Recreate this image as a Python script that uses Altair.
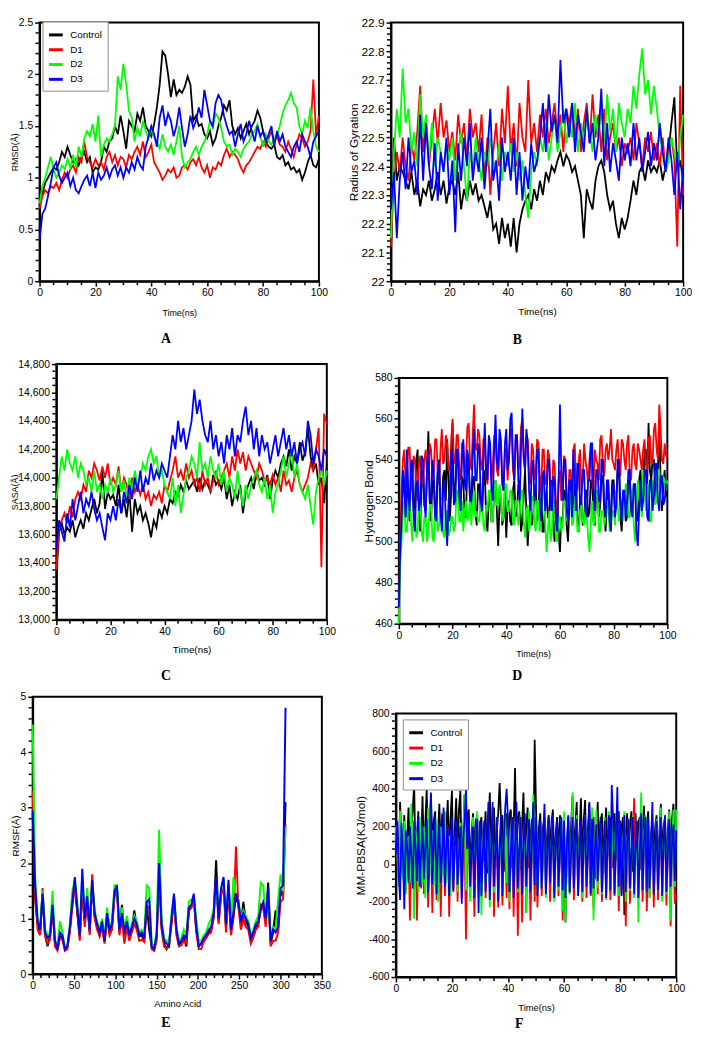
import altair as alt
import pandas as pd

SERIES = ["Control", "D1", "D2", "D3"]
COLORS = ["#000000", "#ff0000", "#00ff00", "#0000ff"]
FONT = "Liberation Sans"
SERIF = "Liberation Serif"

time_ns = list(range(0, 101))
time_half = [i / 2 for i in range(201)]
residue = list(range(0, 307, 3))

# ---------------- A: RMSD ----------------
rmsd_control = [0.72, 0.85, 0.95, 1.0, 1.05, 1.1, 1.08, 1.15, 1.25, 1.2, 1.3,
                1.22, 1.15, 1.18, 1.12, 1.2, 1.25, 1.15, 1.2, 1.05, 1.1,
                1.08, 1.15, 1.3, 1.25, 1.35, 1.38, 1.5, 1.42, 1.6, 1.45,
                1.28, 1.55, 1.5, 1.45, 1.62, 1.55, 1.68, 1.5, 1.45, 1.4,
                1.52, 1.68, 1.9, 2.22, 2.18, 2.0, 1.78, 1.95, 1.8, 1.85,
                1.82, 1.88, 1.98, 1.9, 1.55, 1.6, 1.5, 1.52, 1.42, 1.38,
                1.45, 1.32, 1.38, 1.5, 1.58, 1.7, 1.65, 1.75, 1.5, 1.42,
                1.48, 1.38, 1.45, 1.52, 1.42, 1.5, 1.55, 1.65, 1.58, 1.45,
                1.35, 1.3, 1.28, 1.32, 1.2, 1.18, 1.22, 1.12, 1.15, 1.08,
                1.1, 1.05, 1.08, 0.98, 1.05, 1.15, 1.22, 1.12, 1.1, 1.18]
rmsd_d1 = [0.7, 0.82, 0.88, 0.85, 0.92, 0.9, 0.95, 0.88, 0.98, 1.05, 1.0,
           1.08, 1.12, 1.05, 1.2, 1.15, 1.35, 1.2, 1.15, 1.1, 1.18,
           1.12, 1.15, 1.08, 1.2, 1.25, 1.15, 1.22, 1.12, 1.2, 1.18,
           1.1, 1.22, 1.18, 1.25, 1.3, 1.22, 1.35, 1.2, 1.25, 1.32,
           1.15, 1.1, 1.05, 0.98, 1.02, 1.08, 1.05, 1.1, 1.0, 1.02,
           1.1, 1.12, 1.08, 1.15, 1.18, 1.12, 1.2, 1.1, 1.05, 1.12,
           1.0, 1.1, 1.08, 1.15, 1.12, 1.22, 1.28, 1.2, 1.25, 1.22,
           1.18, 1.1, 1.05, 1.12, 1.15, 1.2, 1.25, 1.3, 1.28, 1.35,
           1.3, 1.38, 1.45, 1.35, 1.4, 1.32, 1.3, 1.25, 1.35, 1.28,
           1.2, 1.32, 1.42, 1.38, 1.3, 1.35, 1.45, 1.95, 1.4, 1.6]
rmsd_d2 = [0.75, 0.92, 1.0, 1.1, 1.2, 1.08, 1.0, 1.05, 1.12, 1.08, 1.18,
           1.1, 1.22, 1.1, 1.3, 1.2, 1.38, 1.45, 1.4, 1.52, 1.35,
           1.6, 1.2, 1.32, 1.38, 1.35, 1.42, 1.5, 1.98, 1.85, 2.1,
           1.9, 1.65, 1.58, 1.35, 1.48, 1.4, 1.55, 1.45, 1.38, 1.48,
           1.4, 1.35, 1.28, 1.42, 1.3, 1.25, 1.32, 1.22, 1.35, 1.5,
           1.2, 1.1, 1.15, 1.18, 1.25, 1.3, 1.22, 1.3, 1.35, 1.42,
           1.55, 1.48, 1.62, 1.58, 1.48, 1.35, 1.3, 1.32, 1.22, 1.28,
           1.25, 1.2, 1.28, 1.32, 1.35, 1.42, 1.45, 1.52, 1.4, 1.3,
           1.42, 1.35, 1.32, 1.38, 1.42, 1.5, 1.62, 1.7, 1.75, 1.82,
           1.72, 1.68, 1.5, 1.42, 1.55, 1.48, 1.68, 1.45, 1.3, 1.25]
rmsd_d3 = [0.4, 0.65, 0.7, 0.82, 0.95, 1.1, 1.15, 1.02, 0.95, 1.0, 1.05,
           0.92, 1.0, 0.88, 0.85, 0.92, 0.98, 1.02, 0.92, 1.05, 0.9,
           1.05, 0.98, 1.02, 1.1, 1.0, 1.08, 1.12, 1.02, 1.1, 1.0,
           1.1, 1.05, 1.15, 1.08, 1.2, 1.12, 1.08, 1.3, 1.4, 1.5,
           1.42, 1.3, 1.58, 1.7, 1.5, 1.62, 1.55, 1.4, 1.5, 1.68,
           1.48, 1.3, 1.42, 1.6, 1.48, 1.55, 1.68, 1.58, 1.85, 1.7,
           1.55, 1.5, 1.72, 1.8, 1.75, 1.6, 1.5, 1.42, 1.45, 1.3,
           1.42, 1.52, 1.35, 1.42, 1.55, 1.45, 1.35, 1.5, 1.4, 1.45,
           1.35, 1.42, 1.5, 1.3, 1.45, 1.35, 1.42, 1.3, 1.25, 1.2,
           1.3, 1.35, 1.25, 1.42, 1.35, 1.3, 1.2, 1.35, 1.4, 1.45]

# ---------------- B: Radius of gyration ----------------
rg_control = [22.1, 22.5, 22.35, 22.4, 22.38, 22.35, 22.32, 22.38, 22.3, 22.35, 22.26,
              22.32, 22.3, 22.35, 22.28, 22.32, 22.38, 22.3, 22.35, 22.27, 22.33,
              22.35, 22.3, 22.38, 22.25, 22.32, 22.28, 22.35, 22.3, 22.34, 22.28,
              22.3, 22.26, 22.22, 22.28, 22.18, 22.2, 22.13, 22.22, 22.15, 22.2,
              22.12, 22.22, 22.1, 22.2, 22.25, 22.28, 22.3, 22.25, 22.32, 22.28,
              22.35, 22.3, 22.38, 22.35, 22.4, 22.38, 22.42, 22.45, 22.4, 22.44,
              22.42, 22.38, 22.4, 22.35, 22.3, 22.15, 22.32, 22.28, 22.25, 22.35,
              22.4, 22.42, 22.38, 22.3, 22.25, 22.28, 22.2, 22.15, 22.22, 22.18,
              22.22, 22.28, 22.35, 22.3, 22.38, 22.4, 22.35, 22.42, 22.38, 22.4,
              22.38, 22.42, 22.35, 22.4, 22.45, 22.55, 22.64, 22.38, 22.42, 22.35]
rg_d1 = [22.12, 22.35, 22.45, 22.38, 22.5, 22.4, 22.35, 22.48, 22.42, 22.52, 22.68,
         22.45, 22.55, 22.4, 22.5, 22.6, 22.48, 22.62, 22.5, 22.56, 22.45,
         22.52, 22.42, 22.58, 22.48, 22.55, 22.42, 22.6, 22.5, 22.55, 22.45,
         22.58, 22.35, 22.5, 22.3, 22.45, 22.55, 22.4, 22.6, 22.48, 22.68,
         22.45, 22.55, 22.4, 22.62, 22.5, 22.45, 22.7, 22.48, 22.55, 22.45,
         22.58, 22.5, 22.6, 22.48, 22.55, 22.62, 22.5, 22.58, 22.45, 22.6,
         22.55, 22.62, 22.5, 22.6, 22.45, 22.55, 22.62, 22.48, 22.65, 22.5,
         22.58, 22.45, 22.6, 22.42, 22.5, 22.55, 22.45, 22.5, 22.4, 22.48,
         22.45, 22.5, 22.42, 22.55, 22.48, 22.4, 22.5, 22.45, 22.52, 22.42,
         22.48, 22.4, 22.5, 22.38, 22.45, 22.5, 22.42, 22.12, 22.68, 22.3]
rg_d2 = [22.15, 22.45, 22.6, 22.5, 22.74, 22.55, 22.6, 22.45, 22.52, 22.4, 22.65,
         22.5, 22.58, 22.42, 22.55, 22.4, 22.5, 22.45, 22.38, 22.48, 22.42,
         22.5, 22.35, 22.45, 22.52, 22.4, 22.28, 22.45, 22.38, 22.5, 22.42,
         22.35, 22.45, 22.4, 22.5, 22.42, 22.38, 22.48, 22.35, 22.45, 22.4,
         22.48, 22.38, 22.45, 22.35, 22.42, 22.3, 22.22, 22.38, 22.45, 22.4,
         22.5, 22.45, 22.55, 22.42, 22.5, 22.58, 22.45, 22.52, 22.6, 22.48,
         22.55, 22.5, 22.62, 22.45, 22.55, 22.48, 22.6, 22.52, 22.45, 22.58,
         22.5, 22.6, 22.48, 22.65, 22.52, 22.6, 22.45, 22.62, 22.55, 22.5,
         22.6, 22.55, 22.68, 22.6, 22.72, 22.81, 22.65, 22.7, 22.58, 22.68,
         22.6, 22.5, 22.45, 22.38, 22.42, 22.5, 22.45, 22.38, 22.5, 22.58]
rg_d3 = [22.25, 22.38, 22.15, 22.35, 22.45, 22.32, 22.5, 22.38, 22.42, 22.3, 22.58,
         22.35, 22.55, 22.4, 22.32, 22.48, 22.28, 22.45, 22.38, 22.5, 22.3,
         22.42, 22.17, 22.48, 22.35, 22.5, 22.4, 22.55, 22.35, 22.45, 22.38,
         22.5, 22.32, 22.45, 22.6, 22.35, 22.42, 22.28, 22.5, 22.38, 22.45,
         22.35, 22.5, 22.3, 22.45, 22.28, 22.4, 22.32, 22.48, 22.38, 22.42,
         22.5, 22.62, 22.45, 22.65, 22.52, 22.58, 22.48, 22.77, 22.55, 22.6,
         22.5, 22.62, 22.45, 22.58, 22.52, 22.45, 22.6, 22.48, 22.55, 22.42,
         22.5, 22.67, 22.4, 22.55, 22.38, 22.48, 22.42, 22.35, 22.5, 22.42,
         22.48, 22.4, 22.55, 22.42, 22.5, 22.38, 22.45, 22.52, 22.4, 22.48,
         22.42, 22.55, 22.45, 22.38, 22.5, 22.42, 22.3, 22.45, 22.25, 22.4]

# ---------------- C: SASA ----------------
sasa_control = [13300, 13620, 13680, 13600, 13650, 13620, 13700, 13580, 13650, 13700, 13640,
                13750, 13700, 13780, 13850, 13750, 13820, 14050, 13780, 13900, 13850,
                13880, 13800, 13950, 13750, 13850, 13720, 13900, 13620, 13850, 13750,
                13800, 13700, 13750, 13680, 13580, 13700, 13650, 13780, 13720, 13800,
                13750, 13850, 13820, 13900, 13870, 13950, 13900, 13980, 13920, 13950,
                13980, 13900, 14000, 13920, 13980, 13950, 13900, 14020, 13950, 13980,
                13920, 14000, 13850, 13950, 13800, 13900, 13850, 13950, 13750, 13900,
                13950, 14000, 13920, 14050, 13980, 14000, 13950, 14020, 13850, 13980,
                14050, 14000, 14100, 14150, 14080, 14200, 14050, 14150, 14100, 14250,
                14120, 14180, 14350, 14150, 14050, 14100, 13950, 14000, 13820, 14100]
sasa_d1 = [13350, 13650, 13700, 13750, 13680, 13800, 13720, 13850, 13900, 13850, 13950,
           13900, 14050, 14000, 14100, 14050, 13980, 14080, 14000, 14100, 13950,
           14000, 13950, 14080, 13900, 14000, 13950, 13850, 14000, 13900, 13950,
           13880, 13950, 13850, 13900, 13800, 13880, 13850, 13900, 13820, 13950,
           13900, 13980, 14050, 14150, 14000, 14050, 13980, 14100, 14000, 14050,
           13950, 14000, 13900, 14050, 13950, 14000, 13900, 13980, 14050, 13950,
           14000, 14050, 14100, 14000, 14150, 14050, 14200, 14100, 14180, 14050,
           14150, 14100, 14050, 14000, 14100, 14050, 13980, 14000, 13950, 14020,
           13950, 14000, 13900, 14050, 13950, 13980, 13900, 14000, 14050, 13950,
           13900, 13950, 14000, 14100, 14050, 14200, 14350, 13370, 14450, 14380]
sasa_d2 = [13850, 14000, 14150, 14050, 14200, 14100, 14050, 14150, 14000, 14100, 14050,
           13950, 14000, 13900, 14050, 13900, 13950, 13850, 13950, 13900, 14000,
           13900, 13950, 14050, 13900, 13980, 13850, 14000, 13900, 14050, 13950,
           14000, 14100, 14050, 14150, 14200, 14100, 14150, 14000, 14050, 13950,
           13900, 13850, 14000, 13800, 13950, 13750, 13880, 14000, 14050, 14150,
           14100, 14000, 14250, 14050, 14100, 14000, 14150, 14050, 14000, 14100,
           13950, 14050, 13900, 14000, 13950, 13850, 14050, 13900, 13800, 13950,
           13850, 13950, 14000, 14050, 13950, 13900, 14000, 13850, 13950, 13750,
           13900, 13950, 14050, 14150, 14000, 14100, 14200, 14000, 14100, 13950,
           13900, 13850, 13950, 13800, 13670, 13900, 14000, 14050, 13950, 14050]
sasa_d3 = [13500, 13700, 13620, 13550, 13750, 13650, 13850, 13700, 13800, 13900, 13750,
           13850, 13800, 13900, 13780, 13700, 13750, 13650, 13560, 13750, 13700,
           13800, 13700, 13850, 13750, 13900, 13820, 13950, 13850, 14000, 13900,
           14050, 13900, 14000, 13950, 14100, 13980, 14050, 14000, 14100, 14050,
           14000, 14150, 14300, 14200, 14400, 14250, 14350, 14200, 14300, 14400,
           14620, 14450, 14550, 14400, 14300, 14250, 14400, 14200, 14300, 14150,
           14250, 14100, 14300, 14200, 14350, 14150, 14300, 14250, 14400, 14500,
           14300, 14400, 14200, 14350, 14150, 14300, 14200, 14250, 14100, 14200,
           14300, 14150, 14250, 14350, 14200, 14300, 14150, 14250, 14100, 14200,
           14250, 14150, 14400, 14300, 14100, 14200, 14150, 14050, 14200, 14150]

# ---------------- D: Hydrogen bonds (every 0.5 ns) ----------------
hb_control = [470, 505, 515, 530, 525, 512, 540, 518, 510, 532, 530, 515, 520, 540, 545, 512, 505, 528, 535, 518,
              515, 535, 554, 520, 510, 530, 530, 512, 520, 538, 540, 515, 515, 532, 535, 520, 550, 530, 510, 525,
              558, 520, 525, 540, 545, 518, 520, 532, 530, 512, 512, 540, 540, 520, 518, 530, 532, 515, 508, 528,
              528, 515, 515, 530, 535, 512, 505, 520, 525, 510, 510, 525, 530, 515, 498, 520, 522, 508, 512, 525,
              502, 518, 520, 510, 508, 525, 530, 512, 515, 528, 525, 505, 510, 522, 535, 515, 498, 512, 520, 508,
              512, 525, 528, 510, 515, 532, 530, 505, 505, 520, 525, 512, 512, 528, 530, 510, 500, 515, 520, 505,
              495, 512, 510, 525, 525, 508, 500, 518, 530, 512, 515, 528, 528, 510, 505, 520, 520, 508, 510, 525,
              525, 512, 515, 530, 530, 510, 508, 522, 525, 512, 518, 532, 532, 515, 505, 520, 528, 512, 515, 530,
              530, 515, 520, 535, 535, 512, 505, 522, 525, 510, 512, 530, 530, 515, 518, 528, 528, 512, 510, 530,
              535, 520, 525, 545, 545, 528, 558, 535, 530, 540, 540, 525, 520, 535, 558, 530, 515, 528, 535, 522,
              525]
hb_d1 = [462, 500, 525, 540, 545, 530, 530, 546, 546, 528, 525, 542, 540, 525, 520, 538, 542, 530, 528, 540,
         545, 532, 530, 548, 545, 530, 535, 550, 550, 535, 528, 545, 555, 538, 540, 552, 548, 535, 535, 550,
         560, 540, 538, 552, 552, 535, 530, 548, 548, 532, 540, 556, 558, 540, 535, 552, 567, 545, 545, 555,
         552, 538, 535, 550, 550, 532, 528, 548, 545, 530, 538, 552, 550, 535, 532, 548, 548, 530, 525, 545,
         545, 530, 540, 555, 555, 535, 530, 550, 552, 535, 538, 556, 560, 540, 535, 552, 550, 532, 528, 548,
         545, 530, 535, 550, 548, 530, 525, 545, 545, 528, 530, 545, 542, 525, 520, 540, 538, 520, 510, 530,
         535, 520, 525, 542, 540, 522, 518, 535, 535, 520, 545, 548, 530, 525, 540, 545, 525, 530, 548, 540,
         535, 528, 540, 548, 530, 525, 545, 540, 538, 530, 550, 552, 535, 532, 545, 548, 540, 545, 555, 540,
         538, 535, 545, 550, 535, 532, 550, 548, 540, 535, 548, 552, 532, 530, 545, 548, 538, 535, 548, 545,
         540, 535, 545, 550, 538, 535, 550, 552, 540, 538, 555, 558, 545, 540, 567, 555, 540, 538, 548, 542,
         542]
hb_d2 = [460, 490, 500, 515, 520, 505, 505, 518, 525, 510, 500, 512, 515, 502, 505, 520, 520, 505, 500, 512,
         512, 500, 505, 518, 518, 502, 500, 515, 515, 505, 508, 520, 520, 504, 502, 515, 515, 503, 505, 512,
         512, 505, 508, 525, 525, 510, 510, 520, 505, 515, 520, 510, 512, 522, 508, 520, 525, 512, 515, 510,
         510, 520, 520, 508, 505, 518, 515, 525, 525, 510, 510, 525, 530, 518, 518, 528, 522, 510, 512, 528,
         528, 515, 515, 525, 525, 510, 508, 520, 520, 508, 512, 525, 525, 510, 502, 515, 518, 505, 510, 522,
         522, 508, 505, 520, 520, 505, 512, 530, 530, 510, 495, 505, 515, 500, 505, 520, 520, 502, 500, 512,
         512, 505, 508, 520, 520, 510, 515, 525, 525, 508, 510, 522, 522, 505, 505, 515, 518, 510, 508, 518,
         512, 502, 495, 510, 520, 508, 510, 525, 525, 505, 505, 515, 515, 508, 512, 520, 520, 505, 508, 515,
         515, 508, 525, 518, 510, 520, 520, 510, 518, 528, 528, 512, 512, 525, 525, 508, 500, 518, 530, 520,
         520, 512, 535, 525, 515, 528, 528, 510, 510, 530, 530, 518, 520, 535, 535, 520, 525, 532, 530, 525,
         530]
hb_d3 = [468, 495, 510, 535, 530, 512, 545, 525, 515, 538, 540, 512, 505, 528, 530, 515, 520, 542, 540, 518,
         512, 538, 545, 520, 520, 540, 535, 512, 510, 532, 540, 515, 505, 525, 530, 510, 498, 520, 525, 545,
         540, 518, 520, 545, 545, 522, 515, 540, 550, 528, 525, 545, 540, 520, 520, 542, 555, 530, 530, 548,
         545, 520, 515, 540, 558, 535, 530, 552, 548, 525, 520, 545, 562, 540, 535, 555, 550, 528, 525, 548,
         555, 535, 540, 560, 563, 540, 530, 552, 552, 530, 520, 545, 565, 542, 535, 555, 548, 525, 515, 535,
         540, 520, 525, 545, 545, 520, 510, 532, 535, 515, 520, 540, 540, 518, 515, 532, 530, 510, 505, 530,
         567, 535, 520, 540, 540, 515, 510, 530, 530, 512, 545, 530, 515, 538, 538, 518, 520, 535, 535, 515,
         512, 530, 530, 548, 548, 525, 515, 535, 535, 520, 520, 540, 540, 518, 512, 530, 530, 510, 505, 528,
         528, 512, 518, 540, 540, 520, 510, 525, 525, 512, 520, 535, 535, 515, 512, 528, 528, 505, 498, 515,
         530, 515, 520, 535, 535, 512, 510, 530, 530, 515, 522, 538, 538, 520, 515, 532, 532, 518, 520, 528,
         528]

# ---------------- E: RMSF ----------------
rmsf_control = [2.9, 1.35, 0.9, 0.75, 1.4, 0.7, 0.5, 0.68, 1.2, 0.55,
                0.45, 0.7, 0.65, 0.45, 0.5, 0.8, 1.35, 1.6, 1.1, 0.65,
                1.5, 0.95, 1.35, 0.75, 1.65, 1.05, 0.85, 0.7, 0.9, 0.58,
                1.05, 0.78, 0.85, 1.45, 1.55, 0.75, 1.25, 0.7, 0.9, 0.65,
                0.8, 1.15, 0.85, 0.68, 0.7, 0.6, 1.25, 0.8, 0.48, 0.45,
                0.65, 1.85, 0.85, 0.55, 0.45, 0.55, 0.95, 1.4, 0.75, 0.52,
                0.58, 0.65, 0.5, 1.15, 1.2, 1.4, 0.8, 0.5, 0.55, 0.62,
                0.68, 0.75, 0.8, 1.05, 2.05, 0.95, 1.45, 1.7, 0.82, 1.6,
                0.75, 1.05, 1.4, 1.25, 0.9, 1.3, 0.95, 0.85, 0.62, 0.72,
                0.85, 0.9, 1.15, 1.25, 0.95, 1.65, 0.55, 0.75, 1.15, 0.8,
                1.5, 1.4, 3.1]
rmsf_d1 = [3.3, 1.4, 0.8, 0.7, 1.55, 0.7, 0.55, 0.62, 1.2, 0.5,
           0.42, 0.65, 0.62, 0.42, 0.45, 0.75, 1.2, 1.6, 1.15, 0.6,
           1.55, 0.85, 1.3, 0.7, 1.8, 1.0, 0.8, 0.68, 0.85, 0.55,
           1.0, 0.7, 0.8, 1.4, 1.5, 0.7, 1.0, 0.55, 0.85, 0.6,
           0.75, 0.9, 0.8, 0.6, 0.62, 0.58, 1.2, 1.2, 0.45, 0.42,
           0.6, 1.8, 0.8, 0.5, 0.45, 0.5, 0.9, 1.3, 0.7, 0.5,
           0.52, 0.6, 0.55, 1.15, 1.2, 1.35, 0.75, 0.45, 0.45, 0.58,
           0.65, 0.72, 0.75, 1.0, 1.7, 0.9, 1.4, 1.6, 0.75, 1.5,
           0.7, 1.0, 2.3, 1.2, 0.8, 1.0, 0.85, 0.8, 0.55, 0.65,
           0.8, 0.85, 1.25, 1.2, 0.85, 1.45, 0.5, 0.6, 0.6, 0.75,
           1.3, 1.35, 2.7]
rmsf_d2 = [4.5, 1.75, 1.0, 0.85, 1.5, 0.8, 0.7, 0.75, 1.5, 0.62,
           0.5, 0.95, 0.75, 0.48, 0.52, 0.9, 1.5, 1.7, 1.3, 0.75,
           1.8, 1.05, 1.55, 0.85, 1.7, 1.15, 0.95, 0.8, 1.0, 0.65,
           1.2, 0.85, 0.95, 1.6, 1.6, 0.85, 1.2, 0.8, 1.05, 0.75,
           0.9, 1.05, 0.95, 0.75, 0.8, 0.7, 1.6, 1.55, 0.55, 0.5,
           0.75, 2.6, 1.0, 0.65, 0.6, 0.55, 1.1, 1.4, 0.85, 0.6,
           0.65, 0.8, 0.7, 1.3, 1.35, 1.35, 1.0, 0.6, 0.6, 0.7,
           0.75, 0.9, 1.0, 1.15, 1.6, 1.05, 1.5, 1.7, 0.95, 1.65,
           0.85, 1.75, 1.4, 1.35, 1.0, 1.15, 1.05, 0.95, 0.7, 0.8,
           0.95, 1.05, 1.65, 1.6, 1.1, 1.45, 0.65, 0.85, 0.8, 1.35,
           1.8, 1.5, 2.65]
rmsf_d3 = [2.95, 1.6, 0.95, 0.8, 1.45, 0.75, 0.65, 0.7, 1.25, 0.6,
           0.45, 0.75, 0.7, 0.45, 0.5, 0.85, 1.3, 1.75, 1.2, 0.7,
           1.9, 1.0, 1.4, 0.8, 1.7, 1.1, 0.9, 0.75, 0.95, 0.6,
           1.1, 0.8, 0.9, 1.5, 1.6, 0.8, 1.1, 0.75, 0.95, 0.7,
           0.85, 1.0, 0.9, 0.7, 0.75, 0.65, 1.3, 1.35, 0.5, 0.45,
           0.7, 2.0, 0.9, 0.6, 0.55, 0.5, 1.0, 1.45, 0.8, 0.55,
           0.6, 0.7, 0.65, 1.2, 1.25, 1.45, 0.85, 0.5, 0.55, 0.65,
           0.7, 0.8, 0.85, 1.1, 1.75, 1.0, 1.55, 1.75, 0.9, 1.7,
           0.8, 1.1, 1.45, 1.3, 0.95, 1.1, 1.0, 0.9, 0.65, 0.75,
           0.9, 0.95, 1.2, 1.3, 1.0, 1.55, 0.6, 0.8, 0.75, 0.85,
           1.55, 1.6, 4.8]

# ---------------- F: MM-PBSA (every 0.5 ns) ----------------
pbsa_control = [240, 160, -20, 330, 100, 60, 260, -60, 120, 300, -20, 200, 280, 430, 20, 150, 280, -80, 100, 360,
                40, 220, 400, -40, 180, 370, 80, 230, 280, -20, 150, 320, 50, 260, 250, -100, 200, 340, 30, 250,
                390, -60, 180, 350, 60, 290, 390, -40, 150, 370, 20, 260, 290, -80, 160, 270, 40, 230, 260, -30,
                200, 250, 10, 140, 280, -50, 200, 380, 60, 250, 300, -20, 170, 270, 430, 240, 260, -40, 120, 270,
                70, 260, 290, -20, 180, 510, 60, 250, 280, -30, 200, 380, 40, 190, 300, -20, 150, 240, 10, 660,
                290, -60, 190, 270, 30, 200, 250, -40, 170, 260, 70, 220, 290, -20, 160, 250, 20, 260, 230, -40,
                180, -310, 100, 250, -30, 210, 360, 40, 200, 330, -60, 150, 350, 20, 230, 340, -40, 190, 320, 50,
                210, 250, -80, 180, 330, 30, 220, 270, -50, 160, 300, 40, 200, 250, -20, 170, 270, 20, 230, 280,
                -40, 190, 250, -270, 150, 270, 20, 210, 280, -40, 170, 270, 60, 220, 250, -30, 180, 310, 40, 200,
                280, -60, 160, 230, 20, 200, 260, -40, 170, 320, 30, 200, 250, -50, 180, 290, 10, 240, 320, 60,
                280]
pbsa_d1 = [150, 40, -100, 290, 20, -50, 180, -150, 60, 120, -300, 100, 80, -160, 150, -300, 40, 150, -130, 90,
           -160, 120, 200, -230, 60, 100, -260, 80, 150, -190, 30, 80, -280, 90, 120, -170, 60, 200, -280, 50,
           90, -150, 120, 150, -200, 80, 120, -180, 50, 150, -400, 100, 120, -180, 60, 50, -280, 90, 180, -130,
           100, -150, 60, 200, -180, 120, 90, -130, 70, 160, -280, 100, 120, -230, 60, 180, -220, 100, 130, -180,
           140, -240, 60, 180, -280, 100, 150, -380, 80, 120, -310, 60, 150, -260, 90, 120, -300, 50, 180, -200,
           100, -230, 80, 160, -170, 60, 120, -140, 90, 200, -200, 70, 140, -160, 100, 180, -170, 60, 100, -300,
           150, -220, 80, 180, -160, 90, 120, -190, 60, 200, -150, 70, 90, -200, 100, 160, -180, 50, 120, -170,
           140, -230, 80, 150, -160, 100, 220, -200, 60, 130, -160, 90, 180, -190, 60, 120, -170, 80, 200, -250,
           110, -160, 70, 180, -330, 90, 120, -210, 60, 150, 350, 80, 220, -170, 60, 130, -200, 90, 160, -250,
           100, -180, 60, 140, -230, 80, 170, -190, 60, 120, -160, 90, 200, -220, 70, 130, -330, 60, 110, -210,
           -160]
pbsa_d2 = [200, 60, -120, 280, 40, -80, 230, -160, 100, 150, -100, 320, 60, -290, 180, 90, -150, 250, 40, -100,
           200, -180, 100, 300, -60, 120, 180, -120, 40, 230, -200, 90, 200, -60, 150, 280, -100, 60, 150, -170,
           240, -80, 100, 200, -150, 50, 220, -90, 120, 370, -140, 80, 180, -200, 60, 250, -120, 100, 280, -180,
           200, -270, 90, 220, -100, 60, 180, -230, 120, 300, -150, 80, 250, -120, 40, 220, -160, 100, 280, -100,
           190, -200, 70, 250, -90, 120, 230, -150, 60, 260, -120, 90, 200, -260, 100, 280, -150, 60, 370, -100,
           230, -160, 80, 210, -120, 100, 280, -180, 60, 220, -100, 120, 250, -200, 90, 200, -140, 60, 240, -250,
           280, -310, 100, 200, -160, 60, 380, -120, 90, 260, -150, 120, 220, -180, 60, 260, -110, 100, 240, -140,
           300, -300, 80, 290, -130, 100, 210, -160, 60, 250, -190, 90, 280, -110, 60, 230, -150, 120, 250, -170,
           220, -120, 60, 280, -200, 90, 240, -140, 100, 260, -180, 60, 200, -310, 120, 380, -130, 80, 260, -150,
           220, -180, 100, 260, -110, 60, 240, -140, 90, 300, -200, 120, 250, -160, 60, 280, -300, 90, 290, -120,
           290]
pbsa_d3 = [50, 230, -50, -190, 220, 60, -240, 180, 100, -100, 200, 40, -130, 230, 80, -90, 250, -120, 60, 200,
           -80, 100, 240, -150, 50, 380, -110, 120, 250, -160, 80, 220, -100, 60, 300, -120, 100, 200, -170, 60,
           250, -140, 100, 230, -110, 50, 200, -210, 120, 230, 400, 80, 250, -120, 60, 200, -180, 100, 240, -260,
           230, -170, 60, 230, -150, 120, 330, -190, 80, 330, -120, 60, 250, -200, 100, 260, -170, 120, 300, 400,
           230, -150, 60, 250, -180, 100, 330, -130, 80, 250, -160, 120, 270, -120, 60, 240, -150, 100, 330, -110,
           250, -170, 80, 230, -130, 120, 320, -160, 60, 250, -100, 100, 260, -180, 80, 230, -120, 60, 250, -140,
           230, -180, 100, 260, -150, 60, 250, -130, 120, 240, -170, 80, 230, -150, 100, 260, -120, 60, 330, -160,
           240, -130, 80, 210, -90, 100, 250, -150, 60, 230, -180, 120, 260, -140, 420, 240, -160, 100, 410, -120,
           230, -170, 60, 260, -150, 120, 240, -130, 80, 250, -160, 100, 230, -180, 60, 270, -140, 120, 250, -150,
           240, -130, 100, 330, -160, 60, 230, -140, 80, 250, -170, 120, 260, -150, 60, 240, -120, 100, 210, -90,
           180]

# ---------------- tick values (major, minor) ----------------
time_major = list(range(0, 101, 20))
time_minor = [v for v in range(0, 101, 5) if v % 20]
residue_major = list(range(0, 351, 50))
residue_minor = [v for v in range(0, 351, 10) if v % 50]
rmsd_major = [0, 0.5, 1, 1.5, 2, 2.5]
rmsd_minor = [round(i * 0.1, 1) for i in range(26) if i % 5]
rg_major = [round(22 + i * 0.1, 1) for i in range(10)]
rg_minor = [round(22 + i * 0.02, 2) for i in range(46) if i % 5]
sasa_major = list(range(13000, 14801, 200))
sasa_minor = [v for v in range(13000, 14801, 50) if v % 200]
hb_major = list(range(460, 581, 20))
hb_minor = [v for v in range(460, 581, 4) if v % 20]
rmsf_major = [0, 1, 2, 3, 4, 5]
rmsf_minor = [round(i * 0.2, 1) for i in range(26) if i % 5]
pbsa_major = list(range(-600, 801, 200))
pbsa_minor = [v for v in range(-600, 801, 40) if v % 200]


def long_table(xvals, lists, xname):
    rows = []
    for name, vals in zip(SERIES, lists):
        assert len(vals) == len(xvals), (name, len(vals), len(xvals))
        for xv, yv in zip(xvals, vals):
            rows.append({xname: xv, "value": yv, "series": name})
    return pd.DataFrame(rows)


def make_axis(title, values, fmt, orient, title_pos, label_expr=None, title_size=9.5, label_size=10.5):
    kw = dict(
        title=title, values=values, format=fmt, orient=orient,
        tickSize=5, labelOverlap=False, labelFlush=False, grid=False,
        titleBaseline="middle", titleFontSize=title_size, labelFontSize=label_size,
    )
    if label_expr:
        kw["labelExpr"] = label_expr
    if orient == "left":
        kw["titleX"] = title_pos
    else:
        kw["titleY"] = title_pos
    return alt.Axis(**kw)


def make_legend(lx, ly, size, pad, rowpad):
    return alt.Legend(
        title=None, orient="none", legendX=lx, legendY=ly, direction="vertical",
        symbolType="stroke", symbolSize=size, symbolStrokeWidth=3, symbolOpacity=1,
        labelFont=FONT, labelFontSize=10, labelColor="black", labelOffset=6,
        padding=pad, rowPadding=rowpad, strokeColor="#8c8c8c", fillColor="white",
    )


def panel(df, xname, xdomain, ydomain, xaxis, yaxis, xminor, yminor,
          w, h, box, letter, lxy, legend=None, lw=1.6):
    xs = alt.Scale(domain=xdomain, nice=False, zero=False)
    ys = alt.Scale(domain=ydomain, nice=False, zero=False)
    layers = []
    for name in SERIES:
        layers.append(
            alt.Chart(df).transform_filter(alt.datum.series == name)
            .mark_line(strokeWidth=lw)
            .encode(
                x=alt.X(f"{xname}:Q", scale=xs, axis=xaxis),
                y=alt.Y("value:Q", scale=ys, axis=yaxis),
                color=alt.Color("series:N", scale=alt.Scale(domain=SERIES, range=COLORS), legend=legend),
            )
        )
    # minor ticks, placed through the panel's own scales
    xminor_layer = alt.Chart(pd.DataFrame({xname: xminor})).mark_rule(
        color="black", strokeWidth=1.5).encode(
        x=alt.X(f"{xname}:Q", scale=xs, axis=xaxis), y=alt.value(h + 1), y2=alt.value(h + 4))
    yminor_layer = alt.Chart(pd.DataFrame({"value": yminor})).mark_rule(
        color="black", strokeWidth=1.5).encode(
        y=alt.Y("value:Q", scale=ys, axis=yaxis), x=alt.value(-4), x2=alt.value(-1))
    left, right, top, bottom = box
    anchor = alt.Chart(pd.DataFrame({"a": [0]})).mark_rule(opacity=0).encode(
        x=alt.value(left), x2=alt.value(right), y=alt.value(top), y2=alt.value(bottom)
    )
    lab = alt.Chart(pd.DataFrame({"t": [letter]})).mark_text(
        font=SERIF, fontWeight="bold", fontSize=14, align="center", baseline="middle", color="black"
    ).encode(x=alt.value(lxy[0]), y=alt.value(lxy[1]), text="t:N")
    return alt.layer(*layers, xminor_layer, yminor_layer, anchor, lab).properties(width=w, height=h)


def spacer():
    return alt.Chart(pd.DataFrame({"a": [0]})).mark_rule(opacity=0).encode(
        x=alt.value(0), x2=alt.value(1), y=alt.value(0), y2=alt.value(1)
    ).properties(width=1, height=1, view=alt.ViewBackground(stroke=None))


# A
pA = panel(
    long_table(time_ns, [rmsd_control, rmsd_d1, rmsd_d2, rmsd_d3], "t"), "t", [0, 100], [0, 2.5],
    make_axis("Time(ns)", time_major, "d", "bottom", 32, title_size=9),
    make_axis("RMSD(Å)", rmsd_major, "~g", "left", -25.5, title_size=9),
    time_minor, rmsd_minor,
    283, 262, (-30, 305, -6, 330), "A", (128, 321), legend=make_legend(3, -1, 196, 5, 0), lw=1.8,
)
# B
pB = panel(
    long_table(time_ns, [rg_control, rg_d1, rg_d2, rg_d3], "t"), "t", [0, 100], [22, 22.9],
    make_axis("Time(ns)", time_major, "d", "bottom", 31, title_size=10),
    make_axis("Radius of Gyration", rg_major, "~g", "left", -38, title_size=12, label_size=12),
    time_minor, rg_minor,
    296, 262, (-49, 296, -7, 330), "B", (128, 322), lw=1.8,
)
# C
pC = panel(
    long_table(time_ns, [sasa_control, sasa_d1, sasa_d2, sasa_d3], "t"), "t", [0, 100], [13000, 14800],
    make_axis("Time(ns)", time_major, "d", "bottom", 30, title_size=10),
    make_axis("SASA(Å)", sasa_major, ",.0f", "left", -42.5, title_size=9),
    time_minor, sasa_minor,
    274, 259, (-47, 305, -14, 324), "C", (111, 316), lw=1.8,
)
# D
pD = panel(
    long_table(time_half, [hb_control, hb_d1, hb_d2, hb_d3], "t"), "t", [0, 100], [460, 580],
    make_axis("Time(ns)", time_major, "d", "bottom", 30, title_size=9),
    make_axis("Hydrogen Bond", hb_major, "d", "left", -31, title_size=12),
    time_minor, hb_minor,
    272, 249, (-40, 272, -28, 310), "D", (120, 302), lw=1.8,
)
# E
pE = panel(
    long_table(residue, [rmsf_control, rmsf_d1, rmsf_d2, rmsf_d3], "r"), "r", [0, 350], [0, 5],
    make_axis("Amino Acid", residue_major, "d", "bottom", 30, title_size=9.5),
    make_axis("RMSF(Å)", rmsf_major, "d", "left", -17.5, title_size=10),
    residue_minor, rmsf_minor,
    293, 281, (-23, 305, -11, 281), "E", (135, 331), lw=2,
)
# F
pF = panel(
    long_table(time_half, [pbsa_control, pbsa_d1, pbsa_d2, pbsa_d3], "t"), "t", [0, 100], [-600, 800],
    make_axis("Time(ns)", time_major, "d", "bottom", 31, title_size=9.5),
    make_axis("MM-PBSA(KJ/mol)", pbsa_major, "d", "left", -36, label_expr="'' + datum.value", title_size=12),
    time_minor, pbsa_minor,
    284, 267, (-61, 284, -14, 267), "F", (125, 315), legend=make_legend(7, 6, 196, 5, 0.5), lw=1.8,
)

chart = (
    alt.concat(spacer(), pA, pB, spacer(), pC, pD, spacer(), pE, pF,
               columns=3, spacing=0, align="none")
    .resolve_scale(color="independent")
    .properties(padding=0, background="white")
    .configure_view(stroke="black", strokeWidth=2)
    .configure_axis(
        labelFont=FONT, labelColor="black", labelPadding=2,
        titleFont=FONT, titleFontWeight="normal", titleColor="black",
        domainColor="black", domainWidth=2, tickColor="black", tickWidth=1.5, grid=False,
    )
)

chart.save("out.html", embed_options={"renderer": "svg", "actions": False})
